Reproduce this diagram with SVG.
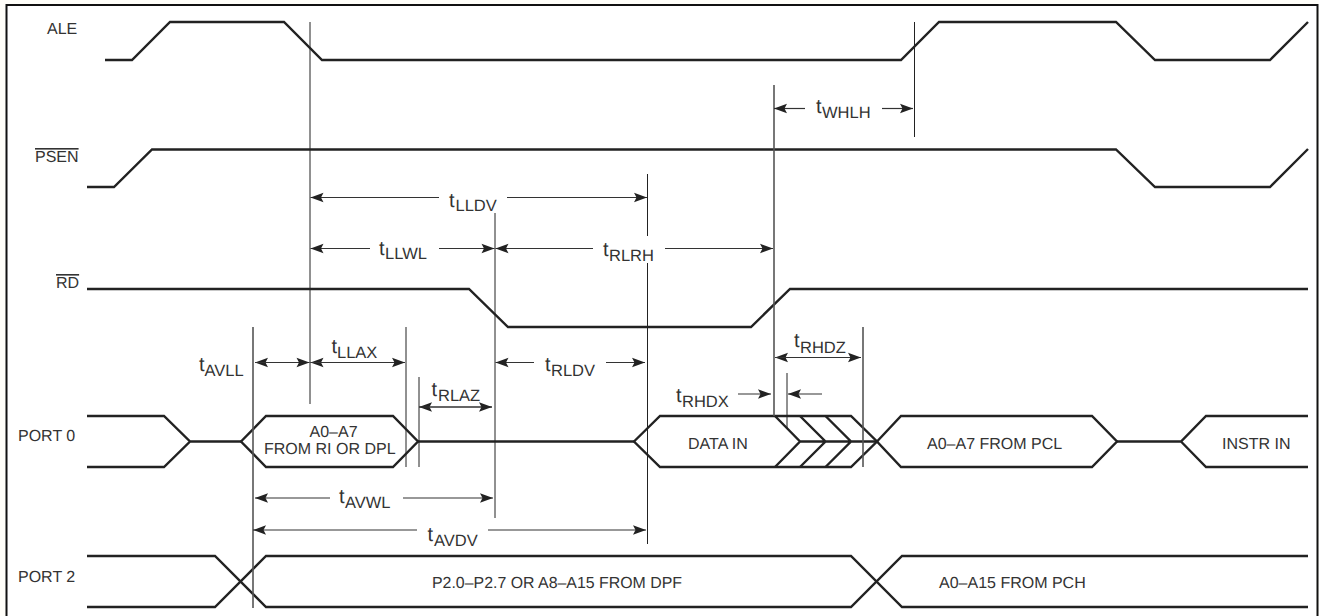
<svg xmlns="http://www.w3.org/2000/svg" width="1319" height="616" viewBox="0 0 1319 616">
<style>
text{font-family:"Liberation Sans",Arial,sans-serif;fill:#333;text-rendering:geometricPrecision}
.l{font-size:16px}
.t{font-size:20px}
.s{font-size:16.5px}
.o{text-decoration:overline}
.w{fill:none;stroke:#222;stroke-width:2.4;stroke-linejoin:miter}
.v{stroke:#222;stroke-width:1;fill:none}
.g{stroke:#555;stroke-width:1.6;fill:none}
.a{stroke:#333;stroke-width:1.2;fill:none;marker-end:url(#ah)}
</style>
<defs>
<marker id="ah" markerUnits="userSpaceOnUse" markerWidth="15" markerHeight="12" refX="14" refY="6" orient="auto">
<path d="M14,6 L1,1.2 L3.5,6 L1,10.8 Z" fill="#222"/>
</marker>
</defs>
<rect width="1319" height="616" fill="#fffef9"/>
<rect x="6.5" y="5" width="1311" height="620" fill="#fff" stroke="#111" stroke-width="2"/>

<g id="ALE">
<text class="l" x="47" y="34">ALE</text>
<path class="w" d="M105,60H132L170,22H284L322,60H901L939,22H1116L1155,60H1270L1308,22"/>
</g>
<g id="PSEN">
<text class="l o" x="35" y="162">PSEN</text>
<path class="w" d="M87,187H114L152,149.5H1116L1155,187H1270L1308,149"/>
</g>
<g id="RD">
<text class="l o" x="56" y="288">RD</text>
<path class="w" d="M87,289H469L508,327H751L790,289H1308"/>
</g>
<g id="PORT0">
<text class="l" x="18" y="441">PORT 0</text>
<path class="w" d="M87,416H164L190,441.5L164,467H87M190,441.5H241"/>
<path class="w" d="M241,441.5L266,416H393L418,441.5L393,467H266Z"/>
<text class="l" x="309.5" y="437">A0–A7</text>
<text class="l" x="264" y="454">FROM RI OR DPL</text>
<path class="w" d="M418,441.5H634"/>
<path class="w" d="M634,441.5L660,416H851L877,441.5L851,467H660Z"/>
<text class="l" x="688" y="449">DATA IN</text>
<path class="w" d="M775,416L800,441.5L775,467M800,416L825.5,441.5L800,467M825.5,416L851,441.5L825.5,467M800,441.5H877"/>
<path class="w" d="M877,441.5L901,416H1092L1117,441.5L1092,467H901Z"/>
<text class="l" x="927" y="449">A0–A7 FROM PCL</text>
<path class="w" d="M1117,441.5H1181L1206,416H1308M1181,441.5L1206,467H1308"/>
<text class="l" x="1222" y="449">INSTR IN</text>
</g>
<g id="PORT2">
<text class="l" x="18" y="582">PORT 2</text>
<path class="w" d="M87,556H215L266,607H851L902,556H1308"/>
<path class="w" d="M87,607H215L266,556H851L902,607H1308"/>
<text class="l" x="432" y="588" textLength="250" lengthAdjust="spacingAndGlyphs">P2.0–P2.7 OR A8–A15 FROM DPF</text>
<text class="l" x="939" y="588">A0–A15 FROM PCH</text>
</g>

<g id="connectors">
<path class="v" d="M310,22V404"/>
<path class="g" d="M253,327V608"/>
<path class="v" d="M406,327V467"/>
<path class="v" d="M419,377V467"/>
<path class="v" d="M495,213V518"/>
<path class="v" d="M647.5,174V236M647.5,263V544"/>
<path class="g" d="M774,85V416"/>
<path class="v" d="M787,373V428"/>
<path class="g" d="M863,327V467"/>
<path class="v" d="M914.5,22V137"/>

<line class="a" x1="805" y1="108.5" x2="774" y2="108.5"/>
<line class="a" x1="882" y1="108.5" x2="913" y2="108.5"/>
<line class="a" x1="439" y1="197.5" x2="310.5" y2="197.5"/>
<line class="a" x1="507" y1="197.5" x2="647" y2="197.5"/>
<line class="a" x1="370" y1="248.5" x2="310.5" y2="248.5"/>
<line class="a" x1="439" y1="248.5" x2="494.5" y2="248.5"/>
<line class="a" x1="593" y1="248.5" x2="495.5" y2="248.5"/>
<line class="a" x1="665" y1="248.5" x2="773" y2="248.5"/>
<line class="a" x1="308" y1="362.5" x2="255" y2="362.5"/>
<line class="a" x1="255" y1="362.5" x2="309.5" y2="362.5"/>
<line class="a" x1="405" y1="362.5" x2="310.5" y2="362.5"/>
<line class="a" x1="310.5" y1="362.5" x2="405" y2="362.5"/>
<line class="a" x1="492" y1="407" x2="419" y2="407"/>
<line class="a" x1="419" y1="407" x2="492" y2="407"/>
<line class="a" x1="534" y1="362.5" x2="495.5" y2="362.5"/>
<line class="a" x1="606" y1="362.5" x2="645" y2="362.5"/>
<line class="a" x1="738" y1="394" x2="771" y2="394"/>
<line class="a" x1="822" y1="394" x2="788" y2="394"/>
<line class="a" x1="861" y1="357.5" x2="775" y2="357.5"/>
<line class="a" x1="775" y1="357.5" x2="861" y2="357.5"/>
<line class="a" x1="330" y1="498" x2="255" y2="498"/>
<line class="a" x1="403" y1="498" x2="493" y2="498"/>
<line class="a" x1="417" y1="530" x2="253" y2="530"/>
<line class="a" x1="488" y1="530" x2="646" y2="530"/>
</g>

<g id="timing-labels">
<text class="t" x="816" y="113">t<tspan class="s" x="822" y="118">WHLH</tspan></text>
<text class="t" x="449" y="207">t<tspan class="s" x="455.5" y="211">LLDV</tspan></text>
<text class="t" x="379" y="255">t<tspan class="s" x="385" y="259">LLWL</tspan></text>
<text class="t" x="603" y="256">t<tspan class="s" x="609" y="261">RLRH</tspan></text>
<text class="t" x="331.5" y="353">t<tspan class="s" x="337" y="357.5">LLAX</tspan></text>
<text class="t" x="199" y="371">t<tspan class="s" x="204.5" y="375.5">AVLL</tspan></text>
<text class="t" x="431.5" y="396">t<tspan class="s" x="438" y="400.5">RLAZ</tspan></text>
<text class="t" x="545" y="371">t<tspan class="s" x="551" y="375.5">RLDV</tspan></text>
<text class="t" x="676" y="402">t<tspan class="s" x="682" y="406.5">RHDX</tspan></text>
<text class="t" x="794" y="347">t<tspan class="s" x="800" y="352.5">RHDZ</tspan></text>
<text class="t" x="339" y="503">t<tspan class="s" x="345" y="507.5">AVWL</tspan></text>
<text class="t" x="427.5" y="541">t<tspan class="s" x="434" y="546">AVDV</tspan></text>
</g>
</svg>
